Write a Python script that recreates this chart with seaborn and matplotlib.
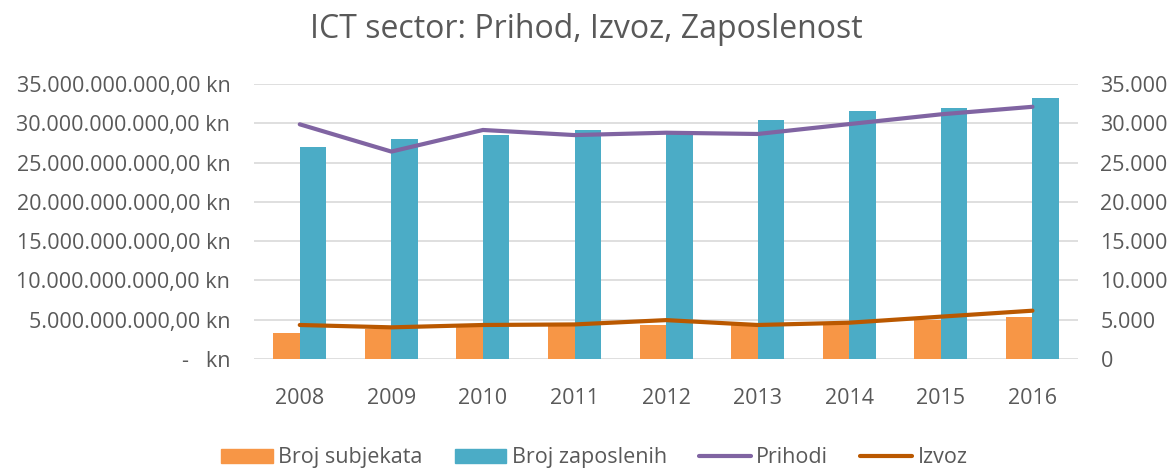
"""
ICT sector chart: revenue, export and employment (bars on right axis, lines on left).
"""

import matplotlib

matplotlib.use("Agg")

import matplotlib.pyplot as plt
import matplotlib.ticker as mticker
import numpy as np
import pandas as pd
import seaborn as sns

years = ["2008", "2009", "2010", "2011", "2012", "2013", "2014", "2015", "2016"]
broj_subjekata = [3350, 3780, 4110, 4200, 4330, 4300, 4540, 4960, 5300]
broj_zaposlenih = [27020, 27960, 28470, 29150, 28900, 30420, 31560, 31900, 33180]
prihodi = [29.87e9, 26.4e9, 29.15e9, 28.5e9, 28.8e9, 28.64e9, 29.9e9, 31.14e9, 32.1e9]
izvoz = [4.33e9, 4.03e9, 4.33e9, 4.4e9, 4.95e9, 4.33e9, 4.62e9, 5.39e9, 6.15e9]

COLOR_SUB = "#F79646"
COLOR_ZAP = "#4BACC6"
COLOR_PRI = "#8064A2"
COLOR_IZV = "#BA5800"
TEXT = "#595959"
GRID = "#D9D9D9"

sns.set_theme(style="white")
plt.rcParams["font.family"] = ["Open Sans", "DejaVu Sans"]

bars_df = pd.DataFrame({
    "year": years * 2,
    "value": broj_subjekata + broj_zaposlenih,
    "series": ["Broj subjekata"] * len(years) + ["Broj zaposlenih"] * len(years),
})
pos = np.arange(len(years))

fig = plt.figure(figsize=(11.72, 4.73), dpi=100)
ax_l = fig.add_axes([0.2167, 0.241, 0.7033, 0.5814])
ax_r = ax_l.twinx()

sns.barplot(
    data=bars_df, x="year", y="value", hue="series", ax=ax_r,
    palette=[COLOR_SUB, COLOR_ZAP], width=0.58, saturation=1, legend=False,
    linewidth=0,
)
ax_r.set_ylim(0, 35000)
ax_r.yaxis.set_major_locator(mticker.MultipleLocator(5000))
ax_r.yaxis.set_major_formatter(
    mticker.FuncFormatter(lambda v, _: "0" if v == 0 else f"{int(v):,}".replace(",", "."))
)
ax_r.grid(axis="y", color=GRID, linewidth=1.2)
ax_r.set_axisbelow(True)

sns.lineplot(x=pos, y=prihodi, ax=ax_l, color=COLOR_PRI, linewidth=3)
sns.lineplot(x=pos, y=izvoz, ax=ax_l, color=COLOR_IZV, linewidth=3)
ax_l.set_zorder(ax_r.get_zorder() + 1)
ax_l.patch.set_visible(False)
ax_l.set_ylim(0, 35e9)
ax_l.set_xlim(-0.5, len(years) - 0.5)
ax_l.yaxis.set_major_locator(mticker.MultipleLocator(5e9))


def kn_fmt(v, _):
    if v == 0:
        return "-   kn"
    return f"{int(round(v)):,}".replace(",", ".") + ",00 kn"


ax_l.yaxis.set_major_formatter(mticker.FuncFormatter(kn_fmt))
ax_l.set_xticks(pos)
ax_l.set_xticklabels(years)

for ax in (ax_l, ax_r):
    ax.set_xlabel("")
    ax.set_ylabel("")
    for side in ax.spines.values():
        side.set_visible(False)
    ax.tick_params(length=0, colors=TEXT, labelsize=15.5)
ax_l.tick_params(axis="y", pad=17)
ax_r.tick_params(axis="y", pad=16)
ax_l.tick_params(axis="x", pad=21)
ax_r.set_xlim(-0.5, len(years) - 0.5)

fig.suptitle("ICT sector: Prihod, Izvoz, Zaposlenost", x=0.5, y=0.937, va="center",
             fontsize=23, color=TEXT)

handles = [
    plt.Rectangle((0, 0), 1, 1, color=COLOR_SUB),
    plt.Rectangle((0, 0), 1, 1, color=COLOR_ZAP),
    plt.Line2D([0], [0], color=COLOR_PRI, linewidth=3),
    plt.Line2D([0], [0], color=COLOR_IZV, linewidth=3),
]
labels = ["Broj subjekata", "Broj zaposlenih", "Prihodi", "Izvoz"]
fig.legend(handles, labels, loc="center", bbox_to_anchor=(0.507, 0.032), ncol=4,
           frameon=False, labelcolor=TEXT, handlelength=2.4,
           handleheight=0.6, columnspacing=1.5, handletextpad=0.25,
           borderpad=0.1,
           prop={"family": ["Liberation Sans Narrow", "Open Sans"], "size": 15.5})

fig.savefig("out.png", dpi=100)
